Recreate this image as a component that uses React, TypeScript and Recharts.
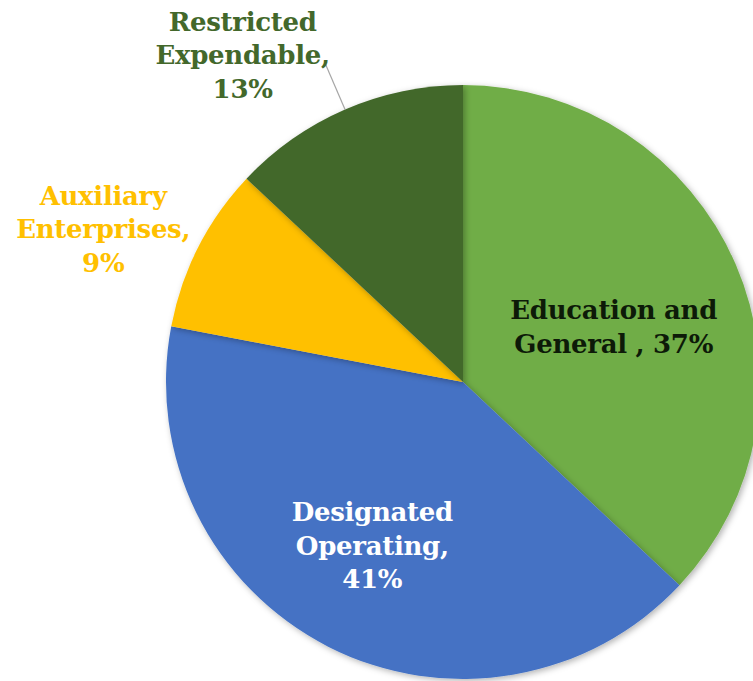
import React from "react";
import { PieChart, Pie, Cell } from "recharts";

const categories = ["Education and General ", "Designated Operating", "Auxiliary Enterprises", "Restricted Expendable"];
const shares = [37, 41, 9, 13];
const labelLines = [
  ["Education and", "General , 37%"],
  ["Designated", "Operating,", "41%"],
  ["Auxiliary", "Enterprises,", "9%"],
  ["Restricted", "Expendable,", "13%"],
];
const sliceColors = ["#70AD47", "#4472C4", "#FFC000", "#43682B"];
const labelColors = ["#0d1a08", "#ffffff", "#FFC000", "#43682B"];
// label placement: radius as a fraction of outer radius, angle shift in degrees
const labelRadius = [0.54, 0.63, 1.316, 1.327];
const labelAngleShift = [-3.4, -2, 4, 10.6];
const leader = [false, false, false, true];

const data = categories.map((name, i) => ({ name, value: shares[i] }));

const RAD = Math.PI / 180;
const FONT_SIZE = 26;
const LINE_H = 33.5;

const renderLabel = (props: any) => {
  const { cx, cy, midAngle, outerRadius, index } = props;
  const ang = (midAngle + labelAngleShift[index]) * RAD;
  const r = outerRadius * labelRadius[index];
  const x = cx + r * Math.cos(ang);
  const y = cy - r * Math.sin(ang);
  const lines = labelLines[index];
  const top = y - ((lines.length - 1) * LINE_H) / 2;
  const m = midAngle * RAD;
  return (
    <g key={"lbl" + index}>
      {leader[index] && (
        <line
          x1={cx + outerRadius * Math.cos(m)}
          y1={cy - outerRadius * Math.sin(m)}
          x2={cx + outerRadius * 1.17 * Math.cos(m)}
          y2={cy - outerRadius * 1.17 * Math.sin(m)}
          stroke="#a6a6a6"
          strokeWidth={1.2}
        />
      )}
      <text
        x={x}
        y={top}
        textAnchor="middle"
        dominantBaseline="central"
        fill={labelColors[index]}
        fontFamily="'DejaVu Serif', serif"
        fontWeight="bold"
        fontSize={FONT_SIZE}
        letterSpacing={-0.3}
      >
        {lines.map((l, j) => (
          <tspan key={j} x={x} y={top + j * LINE_H}>
            {l}
          </tspan>
        ))}
      </text>
    </g>
  );
};

export default function App() {
  return (
    <div style={{ position: "fixed", left: 0, top: 0, width: 753, height: 681, background: "#fff" }}>
      <svg width={0} height={0} style={{ position: "absolute" }}>
        <defs>
          <filter id="pieShadow" x="-10%" y="-10%" width="120%" height="120%">
            <feDropShadow dx="2" dy="2" stdDeviation="3" floodColor="#000" floodOpacity="0.3" />
          </filter>
        </defs>
      </svg>
      <style>{".recharts-pie-sector path{filter:url(#pieShadow);}"}</style>
      <PieChart width={753} height={681} margin={{ top: 0, right: 0, bottom: 0, left: 0 }}>
        <Pie
          data={data}
          dataKey="value"
          nameKey="name"
          cx={463}
          cy={382}
          outerRadius={297}
          startAngle={90}
          endAngle={-270}
          stroke="none"
          isAnimationActive={false}
          labelLine={false}
          label={renderLabel}
        >
          {data.map((d, i) => (
            <Cell key={d.name} fill={sliceColors[i]} />
          ))}
        </Pie>
      </PieChart>
    </div>
  );
}
